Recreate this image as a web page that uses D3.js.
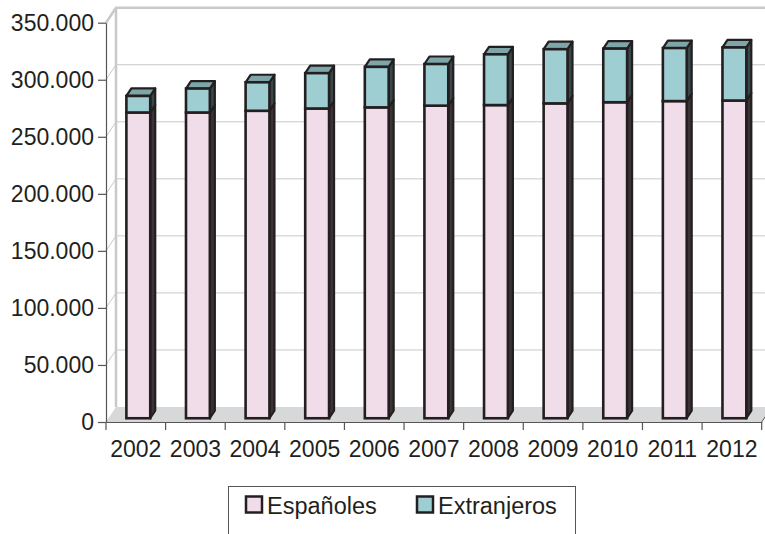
<!DOCTYPE html>
<html>
<head>
<meta charset="utf-8">
<script src="https://cdn.jsdelivr.net/npm/d3@7"></script>
<style>
  html, body { margin: 0; padding: 0; background: #fff; }
  svg { display: block; font-family: 'Liberation Sans', Arial, sans-serif; }
</style>
</head>
<body>
<svg id="chart" width="765" height="534"></svg>
<script>
// ── Data ──────────────────────────────────────────────────────────────────────
const years       = ['2002', '2003', '2004', '2005', '2006', '2007', '2008', '2009', '2010', '2011', '2012'];
const espanoles   = [268000, 268000, 269500, 271500, 272500, 274000, 274500, 276000, 277000, 278000, 278500];
const extranjeros = [14500, 21000, 25000, 31000, 35500, 36500, 44500, 47500, 47000, 46500, 46500];
const yTicks      = [0, 50000, 100000, 150000, 200000, 250000, 300000, 350000];
const seriesNames = ['Españoles', 'Extranjeros'];

// ── Dimensions ────────────────────────────────────────────────────────────────
const X0 = 106, X1 = 761.7;     // front plane, category axis
const Y0 = 422, Y1 = 22.7;      // front plane, value axis
const DX = 10, DY = -15;        // full depth offset
const ink = '#231f20';
const grid = '#c9c9c9';

const svg = d3.select('#chart');

const x = d3.scaleBand()
  .domain(years)
  .range([X0, X1])
  .paddingInner(0.6)
  .paddingOuter(0.3);

const y = d3.scaleLinear()
  .domain([0, 350000])
  .range([Y0, Y1]);

const fmt = d3.formatLocale({ decimal: ',', thousands: '.', grouping: [3], currency: ['', '€'] }).format(',d');

// ── Walls & floor ─────────────────────────────────────────────────────────────
svg.append('g')
  .selectAll('path')
  .data(yTicks.slice(1, -1))
  .join('path')
  .attr('d', d => `M${X0},${y(d)}L${X0 + DX},${y(d) + DY}H${X1 + DX}`)
  .attr('fill', 'none')
  .attr('stroke', grid)
  .attr('stroke-width', 1);

svg.append('path')
  .attr('d', `M${X0},${y(350000)}L${X0 + DX},${y(350000) + DY}H${X1 + DX + 20}`)
  .attr('fill', 'none')
  .attr('stroke', grid)
  .attr('stroke-width', 2.5);

svg.append('path')
  .attr('d', `M${X0 + DX},${y(350000) + DY}V${Y0 + DY}`)
  .attr('fill', 'none')
  .attr('stroke', grid)
  .attr('stroke-width', 2.5);

svg.append('path')
  .attr('d', `M${X0},${Y0}H${X1}L${X1 + DX},${Y0 + DY}H${X0 + DX}Z`)
  .attr('fill', '#d6d8da')
  .attr('stroke', 'none');

svg.append('path')
  .attr('d', `M${X1},${Y0}L${X1 + DX},${Y0 + DY}`)
  .attr('stroke', '#555')
  .attr('stroke-width', 1);

// ── Axes ──────────────────────────────────────────────────────────────────────
const yAxis = svg.append('g')
  .attr('transform', `translate(${X0},0)`)
  .call(d3.axisLeft(y).tickValues(yTicks).tickFormat(fmt).tickSize(8).tickSizeOuter(0).tickPadding(4));

const xAxis = svg.append('g')
  .attr('transform', `translate(0,${Y0})`)
  .call(d3.axisBottom(x).tickSize(0).tickSizeOuter(0));

xAxis.selectAll('.tick text').attr('y', 35).attr('dy', 0);

xAxis.selectAll('.boundary')
  .data(years.concat(['end']))
  .join('line')
  .attr('class', 'boundary')
  .attr('x1', (d, i) => X0 + i * x.step())
  .attr('x2', (d, i) => X0 + i * x.step())
  .attr('y1', 0).attr('y2', 8);

[yAxis, xAxis].forEach(a => {
  a.select('.domain').attr('stroke', '#555').attr('stroke-width', 1.2);
  a.selectAll('line').attr('stroke', '#555').attr('stroke-width', 1.2);
  a.selectAll('text').attr('font-size', 23).attr('fill', ink)
    .attr('font-family', "'Liberation Sans', Arial, sans-serif");
});

// ── Bars ──────────────────────────────────────────────────────────────────────
const d0 = 0.25, d1 = 0.75;
const ox = DX * d0, oy = DY * d0;
const sx = DX * (d1 - d0), sy = DY * (d1 - d0);

const colors = {
  front: ['#f0dde9', '#9ecdd2'],
  side:  ['#3b3335', '#3a4748'],
  top:   ['#c9b4c1', '#7ea6a9']
};

const stacks = years.map((yr, i) => {
  const a = espanoles[i], b = espanoles[i] + extranjeros[i];
  return [{ yr, s: 0, v0: 0, v1: a }, { yr, s: 1, v0: a, v1: b }];
}).flat();

const bars = svg.append('g')
  .selectAll('g')
  .data(stacks)
  .join('g');

bars.each(function (d) {
  const g = d3.select(this);
  const xl = x(d.yr) + ox;
  const xr = xl + x.bandwidth();
  const yt = y(d.v1) + oy;
  const yb = y(d.v0) + oy;

  g.append('path')
    .attr('d', `M${xr},${yt}L${xr + sx},${yt + sy}V${yb + sy}L${xr},${yb}Z`)
    .attr('fill', colors.side[d.s])
    .attr('stroke', ink).attr('stroke-width', 2.2).attr('stroke-linejoin', 'round');

  if (d.s === 1) {
    g.append('path')
      .attr('d', `M${xl},${yt}L${xl + sx},${yt + sy}H${xr + sx}L${xr},${yt}Z`)
      .attr('fill', colors.top[d.s])
      .attr('stroke', ink).attr('stroke-width', 2.2).attr('stroke-linejoin', 'round');
  }

  g.append('rect')
    .attr('x', xl).attr('y', yt)
    .attr('width', xr - xl).attr('height', yb - yt)
    .attr('fill', colors.front[d.s])
    .attr('stroke', ink).attr('stroke-width', 2.6);
});

// ── Legend ────────────────────────────────────────────────────────────────────
const legend = svg.append('g');

legend.append('rect')
  .attr('x', 228.5).attr('y', 486.5)
  .attr('width', 347).attr('height', 70)
  .attr('fill', '#fff')
  .attr('stroke', '#555').attr('stroke-width', 1);

const legendX = [246, 417];
seriesNames.forEach((name, i) => {
  legend.append('rect')
    .attr('x', legendX[i]).attr('y', 496.5)
    .attr('width', 16).attr('height', 16)
    .attr('fill', colors.front[i])
    .attr('stroke', ink).attr('stroke-width', 2.5);
  legend.append('text')
    .attr('x', legendX[i] + 21).attr('y', 513.5)
    .attr('font-size', 23.5)
    .attr('fill', ink)
    .text(name);
});
</script>
</body>
</html>
